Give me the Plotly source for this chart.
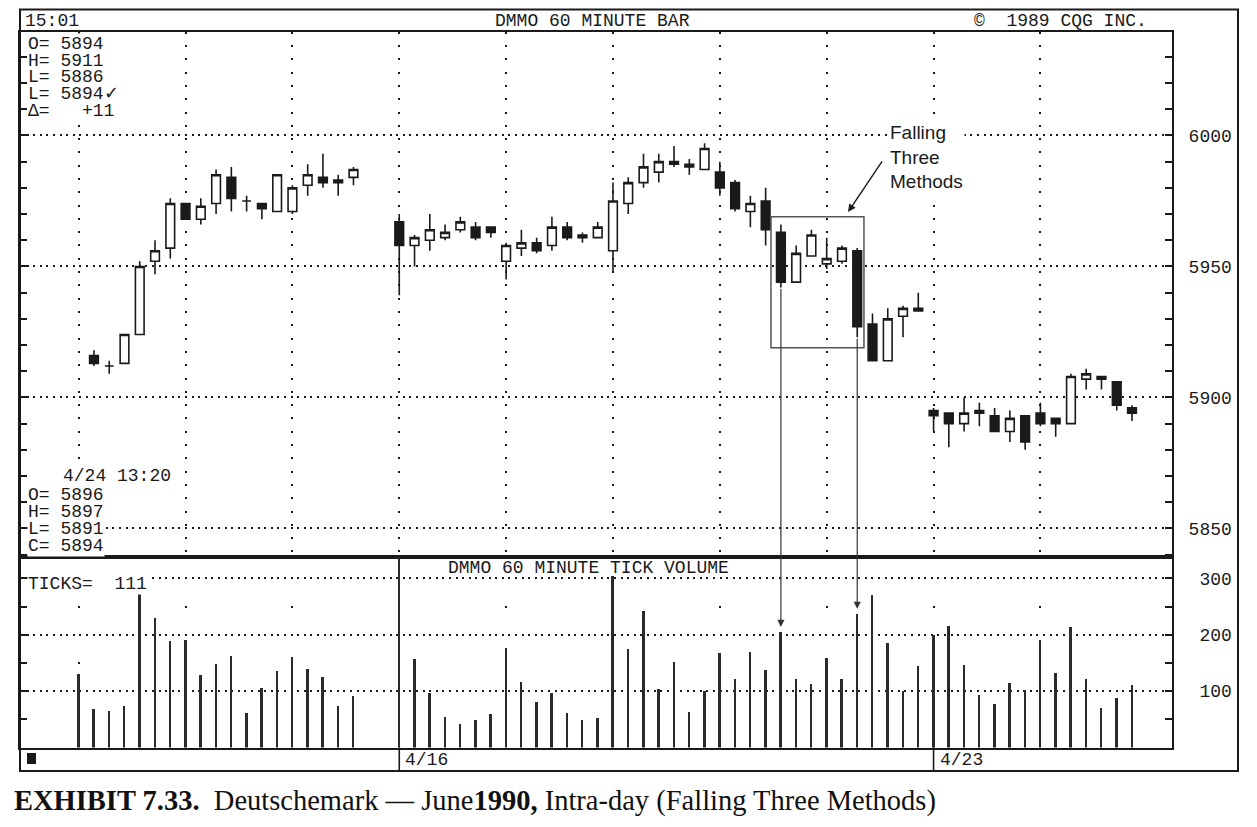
import plotly.graph_objects as go

W, H = 1257, 827
OFF = 8  # page body margin of the html page, in pixels

# ---------------- data ----------------
# 60-minute bar sequence number (bars 19-20 are not shown on the chart)
bar_no = list(range(0, 19)) + list(range(21, 70))

opens = [None, 5916, 5912, 5913, 5924, 5952, 5957, 5974, 5968, 5974, 5984, 5975, 5974, 5971, 5971, 5981, 5984, 5983, 5984,
         5967, 5958, 5960, 5961, 5964, 5965, 5965, 5952, 5957, 5959, 5958, 5965, 5962, 5961, 5956, 5974, 5982, 5986,
         5990, 5989, 5987, 5986, 5982, 5971, 5975, 5963, 5944, 5954, 5951, 5952, 5956, 5928, 5914, 5931, 5933,
         5895, 5894, 5890, 5895, 5893, 5887, 5893, 5894, 5892, 5890, 5907, 5908, 5906, 5896]
highs = [None, 5918, 5914, 5924, 5952, 5960, 5976, 5974, 5976, 5987, 5988, 5977, 5974, 5985, 5981, 5989, 5993, 5985, 5988,
         5970, 5962, 5970, 5966, 5969, 5967, 5965, 5959, 5964, 5961, 5969, 5967, 5963, 5967, 5982, 5984, 5993, 5993,
         5996, 5991, 5997, 5990, 5983, 5977, 5980, 5966, 5958, 5964, 5961, 5958, 5957, 5932, 5934, 5935, 5940,
         5896, 5894, 5900, 5898, 5896, 5895, 5893, 5898, 5892, 5909, 5911, 5908, 5906, 5897]
lows = [None, 5912, 5909, 5913, 5924, 5947, 5953, 5968, 5966, 5970, 5971, 5971, 5968, 5971, 5970, 5977, 5980, 5977, 5981,
        5939, 5950, 5956, 5960, 5963, 5960, 5961, 5945, 5954, 5955, 5956, 5960, 5959, 5961, 5948, 5970, 5980, 5982,
        5988, 5985, 5987, 5977, 5971, 5965, 5958, 5942, 5944, 5954, 5949, 5951, 5923, 5914, 5914, 5923, 5933,
        5887, 5881, 5887, 5889, 5887, 5883, 5880, 5889, 5885, 5890, 5903, 5903, 5895, 5891]
closes = [None, 5913, 5912, 5924, 5950, 5956, 5974, 5968, 5973, 5985, 5976, 5975, 5972, 5985, 5980, 5985, 5982, 5982, 5987,
          5958, 5961, 5964, 5963, 5967, 5961, 5963, 5958, 5959, 5956, 5965, 5961, 5961, 5965, 5975, 5982, 5988, 5990,
          5989, 5988, 5995, 5980, 5972, 5974, 5964, 5944, 5955, 5962, 5953, 5957, 5927, 5914, 5930, 5934, 5934,
          5893, 5890, 5894, 5894, 5887, 5892, 5883, 5890, 5890, 5908, 5909, 5907, 5897, 5894]
tick_volume = [131, 69, 64, 74, 277, 230, 189, 190, 128, 149, 163, 61, 106, 135, 160, 139, 125, 74, 91,
               345, 157, 96, 55, 42, 49, 60, 176, 117, 80, 96, 62, 49, 53, 305, 175, 243, 104, 151, 63, 100,
               168, 121, 169, 138, 205, 121, 112, 158, 121, 236, 271, 186, 100, 145,
               200, 216, 147, 94, 77, 115, 102, 191, 132, 214, 122, 70, 87, 111]

price_ticks = [5850, 5900, 5950, 6000]
volume_ticks = [100, 200, 300]
grid_bars = [0, 7, 14, 21, 28, 35, 42, 49, 56, 63]
date_marks = [(21, "4/16"), (56, "4/23")]

# ---------------- layout geometry (page pixels) ----------------
PLOT_L, PLOT_R = 20, 1172
PRICE_TOP, PRICE_BOT = 31.7, 557
VOL_BOT = 747.5
FRAME_T, FRAME_R, FRAME_B = 9.5, 1238, 771
X_RANGE = [-3.845, 71.62]
PRICE_RANGE = [5839.1, 6039.6]
VOL_RANGE = [0, 338]


def fx(p):
    return (p - OFF) / W


def fy(p):
    return 1 - (p - OFF) / H


def price_px(v):
    return PRICE_TOP + (PRICE_RANGE[1] - v) * (PRICE_BOT - PRICE_TOP) / (PRICE_RANGE[1] - PRICE_RANGE[0])


def vol_px(v):
    return VOL_BOT - (v - VOL_RANGE[0]) * (VOL_BOT - PRICE_BOT) / (VOL_RANGE[1] - VOL_RANGE[0])


MONO = "Liberation Mono"
INK = "#1a1a1a"

fig = go.Figure()

fig.add_trace(go.Candlestick(
    x=bar_no, open=opens, high=highs, low=lows, close=closes,
    increasing=dict(line=dict(color=INK, width=1.6), fillcolor="white"),
    decreasing=dict(line=dict(color=INK, width=1.6), fillcolor=INK),
    whiskerwidth=0, hoverinfo="skip", showlegend=False,
    xaxis="x", yaxis="y",
))

fig.add_trace(go.Bar(
    x=bar_no, y=tick_volume, width=0.13,
    marker=dict(color="#2a2a2a", line=dict(width=0)),
    hoverinfo="skip", showlegend=False,
    xaxis="x2", yaxis="y2",
))

xdom = [fx(PLOT_L), fx(PLOT_R)]
axis_common = dict(showline=True, linecolor=INK, linewidth=2)

fig.update_layout(
    width=W, height=H,
    margin=dict(l=0, r=0, t=0, b=0, pad=0),
    paper_bgcolor="white", plot_bgcolor="white",
    boxgap=0.33, boxgroupgap=0.15,
    bargap=0,
    xaxis=dict(domain=xdom, range=X_RANGE, anchor="y", mirror=True, **axis_common,
               tickmode="array", tickvals=grid_bars, showticklabels=False, ticks="",
               showgrid=True, gridcolor=INK, gridwidth=1.6, griddash="2px,11.3px",
               rangeslider=dict(visible=False), zeroline=False),
    yaxis=dict(domain=[fy(PRICE_BOT), fy(PRICE_TOP)], range=PRICE_RANGE, anchor="x", side="right",
               mirror="ticks", **axis_common,
               tickmode="array", tickvals=price_ticks, ticktext=[str(v) for v in price_ticks],
               ticks="inside", ticklen=7, tickwidth=1.5, tickcolor=INK,
               minor=dict(dtick=10, ticks="inside", ticklen=7, tickwidth=1.5, tickcolor=INK, showgrid=False),
               tickfont=dict(family=MONO, size=18, color=INK), ticklabelstandoff=11,
               showgrid=True, gridcolor=INK, gridwidth=1.6, griddash="2px,4.6px", zeroline=False),
    xaxis2=dict(domain=xdom, range=X_RANGE, anchor="y2", matches="x", mirror=True, **axis_common,
                tickmode="array", tickvals=grid_bars, showticklabels=False, ticks="",
                showgrid=True, gridcolor=INK, gridwidth=1.6, griddash="0px,49px,2px,5.4px",
                zeroline=False),
    yaxis2=dict(domain=[fy(VOL_BOT), fy(PRICE_BOT)], range=VOL_RANGE, anchor="x2", side="right",
                mirror="ticks", **axis_common,
                tickmode="array", tickvals=volume_ticks,
                ticktext=["\u00a0" + str(v) for v in volume_ticks],
                ticks="inside", ticklen=7, tickwidth=1.5, tickcolor=INK,
                minor=dict(dtick=50, ticks="inside", ticklen=7, tickwidth=1.5, tickcolor=INK, showgrid=False),
                tickfont=dict(family=MONO, size=18, color=INK), ticklabelstandoff=11,
                showgrid=True, gridcolor=INK, gridwidth=1.6, griddash="2px,4.6px", zeroline=False),
)

shapes = []
# outer frame
shapes.append(dict(type="rect", xref="paper", yref="paper", x0=fx(PLOT_L), x1=fx(FRAME_R),
                   y0=fy(FRAME_B), y1=fy(FRAME_T), line=dict(color=INK, width=2)))
# date strip dividers
for b, _ in date_marks:
    shapes.append(dict(type="line", xref="x2", yref="paper", x0=b, x1=b,
                       y0=fy(FRAME_B), y1=fy(VOL_BOT), line=dict(color=INK, width=1.6)))
# small black square in date strip
shapes.append(dict(type="rect", xref="paper", yref="paper", x0=fx(27), x1=fx(36),
                   y0=fy(764), y1=fy(753), fillcolor=INK, line=dict(width=0)))
# Falling Three Methods box
shapes.append(dict(type="rect", xref="x", yref="y", x0=45.35, x1=51.44, y0=5919, y1=5969,
                   line=dict(color="#555", width=1.5)))
fig.update_layout(shapes=shapes)

ann = []


def mono(text, x, y, anchor="left", size=18, bg=None):
    d = dict(text=text, xref="paper", yref="paper", x=fx(x), y=fy(y), xanchor=anchor, yanchor="middle",
             showarrow=False, font=dict(family=MONO, size=size, color=INK))
    if bg:
        d["bgcolor"] = bg
        d["borderpad"] = 0
    ann.append(d)


# header
mono("15:01", 23, 20.5)
mono("DMMO 60 MINUTE BAR", 592, 20.5, anchor="center")
mono("©\u00a0\u00a01989 CQG INC.", 972, 20.5)
# top-left readout
top_lines = ["O= 5894", "H= 5911", "L= 5886", "L= 5894✓", "Δ=\u00a0\u00a0\u00a0+11"]
for i, t in enumerate(top_lines):
    mono(t.replace(" ", "\u00a0"), 27, 44 + i * 16.7, bg="white")
# bottom-left readout
mono("4/24\u00a013:20", 62, 476, bg="white")
bot_lines = ["O= 5896", "H= 5897", "L= 5891", "C= 5894"]
for i, t in enumerate(bot_lines):
    mono(t.replace(" ", "\u00a0"), 27, 495 + i * 17, bg="white")
# volume panel
mono("DMMO 60 MINUTE TICK VOLUME", 588, 568, anchor="center")
mono("TICKS=\u00a0\u00a0" + str(tick_volume[-1]), 27, 584, bg="white")
# dates
for b, lab in date_marks:
    ann.append(dict(text=lab, xref="x2", yref="paper", x=b, y=fy(760), xanchor="left", yanchor="middle",
                    xshift=4, showarrow=False, font=dict(family=MONO, size=18, color=INK)))

# Falling Three Methods label and arrow
ann.append(dict(text="Falling<br>Three<br>Methods", xref="paper", yref="paper", x=fx(888), y=fy(157),
                xanchor="left", yanchor="middle", align="left", showarrow=False, bgcolor="white",
                font=dict(family="Liberation Sans", size=19, color=INK)))
ann.append(dict(text="", xref="x", yref="y", x=50.4, y=5970.8, ax=35, ay=-52,
                showarrow=True, arrowhead=2, arrowsize=1.1, arrowwidth=1.4, arrowcolor=INK, standoff=0))

# arrows from the two long black candles down to their tick volume
for b, low_price, tip_vol in [(46, 5942, 214), (51, 5923, 246)]:
    ann.append(dict(text="", xref="x2", yref="y2", x=b, y=tip_vol, ax=0,
                    ay=-(vol_px(tip_vol) - price_px(low_price)),
                    showarrow=True, arrowhead=2, arrowsize=1.2, arrowwidth=1.2, arrowcolor="#333", standoff=0))

# caption
ann.append(dict(text="<b>EXHIBIT 7.33.</b>\u00a0\u00a0Deutschemark\u00a0—\u00a0June<b>1990,</b> Intra-day (Falling Three Methods)",
                xref="paper", yref="paper", x=fx(12), y=fy(801), xanchor="left", yanchor="middle",
                showarrow=False, font=dict(family="Liberation Serif", size=28.5, color="#111")))

fig.update_layout(annotations=ann)

fig.write_html("out.html")
